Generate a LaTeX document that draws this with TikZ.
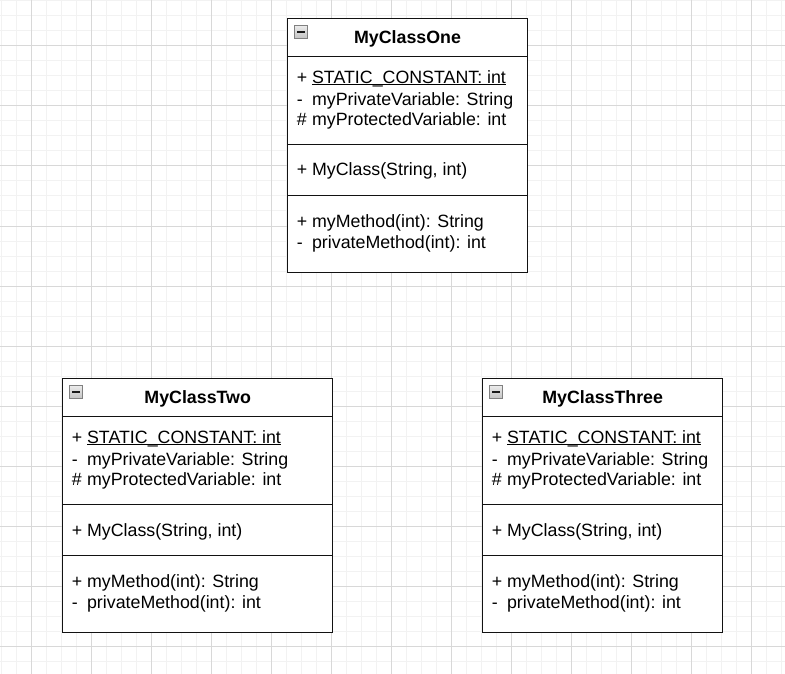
\documentclass[tikz,border=0pt]{standalone}
\usepackage{fontspec}
\setmainfont{Liberation Sans}

\definecolor{gridminor}{RGB}{242,242,242}
\definecolor{gridmajor}{RGB}{216,216,216}
\definecolor{umlline}{RGB}{18,18,18}
\definecolor{iconlight}{RGB}{236,236,236}
\definecolor{icondark}{RGB}{196,196,196}
\definecolor{iconedge}{RGB}{128,128,128}
\definecolor{iconbar}{RGB}{25,25,25}

\tikzset{
  minorline/.style={draw=gridminor, line width=1pt},
  majorline/.style={draw=gridmajor, line width=1pt},
  compart/.style={rectangle, draw=umlline, line width=1.3pt, fill=white,
    inner sep=0pt, outer sep=0pt, anchor=north west},
  collapsebox/.style={rectangle, draw=iconedge, line width=1pt,
    top color=iconlight, bottom color=icondark, inner sep=0pt, outer sep=0pt,
    minimum size=13pt, anchor=north west},
  collapsebar/.style={draw=iconbar, line width=2pt},
  classtitle/.style={font=\fontsize{17.8}{21}\selectfont\bfseries,
    anchor=base, inner sep=0pt},
  member/.style={font=\fontsize{17.8}{21}\selectfont,
    anchor=base west, inner sep=0pt},
}

% visibility marker in a fixed-width slot
\newcommand{\vis}[1]{\makebox[15.2pt][l]{#1}}
% static member: underlined just below the baseline
\newcommand{\staticmember}[1]{\setbox0\hbox{#1}\rlap{\rule[-1.9pt]{\wd0}{1pt}}\box0}

% one class box: #1 name, #2 left, #3 top, #4 width, #5 class name
\newcommand{\umlclass}[5]{%
  \node[compart, minimum width=#4pt, minimum height=38.4pt] (#1-head) at (#2,#3) {};
  \node[compart, minimum width=#4pt, minimum height=87.6pt] (#1-attr) at (#1-head.south west) {};
  \node[compart, minimum width=#4pt, minimum height=51pt] (#1-ctor) at (#1-attr.south west) {};
  \node[compart, minimum width=#4pt, minimum height=77.4pt] (#1-meth) at (#1-ctor.south west) {};
  \node[collapsebox] (#1-icon) at (#2+6.9,#3+6.9) {};
  \draw[collapsebar] ([xshift=2.6pt]#1-icon.west) -- ([xshift=-2.6pt]#1-icon.east);
  \node[classtitle] (#1-title) at (#2+#4/2,#3+25) {#5};
  \node[member] (#1-a1) at (#2+9,#3+65) {\vis{+}\staticmember{STATIC\_CONSTANT: int}};
  \node[member] (#1-a2) at (#2+9,#3+87.5) {\vis{-}myPrivateVariable: String};
  \node[member] (#1-a3) at (#2+9,#3+107.3) {\vis{\#}myProtectedVariable: int};
  \node[member] (#1-c1) at (#2+9,#3+157.7) {\vis{+}MyClass(String, int)};
  \node[member] (#1-m1) at (#2+9,#3+208.7) {\vis{+}myMethod(int): String};
  \node[member] (#1-m2) at (#2+9,#3+229.8) {\vis{-}privateMethod(int): int};
}

\begin{document}
\begin{tikzpicture}[x=1pt, y=-1pt]
  \useasboundingbox (0,0) rectangle (785,674);
  \fill[white] (0,0) rectangle (785,674);

  % background grid: fine lines every 15, strong lines every 60
  \foreach \k in {0,...,52} \draw[minorline] (1.7+15*\k,0) -- (1.7+15*\k,674);
  \foreach \k in {0,...,44} \draw[minorline] (0,1+15*\k) -- (785,1+15*\k);
  \foreach \k in {0,...,12} \draw[majorline] (31.7+60*\k,0) -- (31.7+60*\k,674);
  \foreach \k in {0,...,10} \draw[majorline] (0,46+60*\k) -- (785,46+60*\k);

  \umlclass{one}{287.7}{18.3}{239.6}{MyClassOne}
  \umlclass{two}{62.7}{378.3}{270}{MyClassTwo}
  \umlclass{three}{482.7}{378.3}{240}{MyClassThree}
\end{tikzpicture}
\end{document}
